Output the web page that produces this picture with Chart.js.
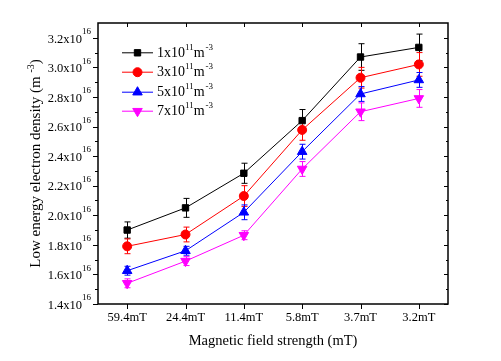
<!DOCTYPE html>
<html>
<head>
<meta charset="utf-8">
<script src="https://cdn.jsdelivr.net/npm/chart.js@4.4.0/dist/chart.umd.min.js"></script>
<style>
  html, body { margin: 0; padding: 0; background: #fff; }
  #wrap { width: 501px; height: 361px; position: relative; }
</style>
</head>
<body>
<div id="wrap"><canvas id="chart"></canvas></div>
<script>
// --- data (densities in units of 1e16 m^-3) ---
const categories = ['59.4mT', '24.4mT', '11.4mT', '5.8mT', '3.7mT', '3.2mT'];
const density1 = [1.90, 2.05, 2.284, 2.64, 3.07, 3.135];
const density3 = [1.79, 1.87, 2.13, 2.577, 2.93, 3.02];
const density5 = [1.625, 1.76, 2.02, 2.43, 2.82, 2.915];
const density7 = [1.54, 1.69, 1.865, 2.313, 2.70, 2.79];
const error1 = [0.055, 0.064, 0.068, 0.075, 0.09, 0.09];
const error3 = [0.05, 0.05, 0.07, 0.07, 0.07, 0.08];
const error5 = [0.03, 0.03, 0.05, 0.05, 0.05, 0.05];
const error7 = [0.03, 0.03, 0.03, 0.05, 0.06, 0.06];
const legendBase = ['1x10', '3x10', '5x10', '7x10'];
const legendExp = '11';
const yTicks = [1.4, 1.6, 1.8, 2.0, 2.2, 2.4, 2.6, 2.8, 3.0, 3.2];
const yTickExp = '16';

const serif = '"Liberation Serif", "Times New Roman", serif';

const series = [
  { label: legendBase[0], data: density1, err: error1, color: '#000000', style: 'rect', rot: 0 },
  { label: legendBase[1], data: density3, err: error3, color: '#ff0000', style: 'circle', rot: 0 },
  { label: legendBase[2], data: density5, err: error5, color: '#0000ff', style: 'triangle', rot: 0 },
  { label: legendBase[3], data: density7, err: error7, color: '#ff00ff', style: 'triangle', rot: 180 }
];

// legend marker in the series colour
function legendMarker(ctx, s, px, py) {
  ctx.save();
  ctx.fillStyle = s.color;
  ctx.strokeStyle = s.color;
  Chart.helpers.drawPoint(ctx, { pointStyle: s.style, radius: s.style === 'triangle' ? 5.5 : 4.5, rotation: s.rot, borderWidth: 1 }, px, py);
  ctx.restore();
}

// error bars, frame, ticks, y labels and legend drawn with the chart's own scales
const extras = {
  id: 'extras',
  beforeDatasetsDraw(chart) {
    const ctx = chart.ctx;
    const x = chart.scales.x, y = chart.scales.y;
    ctx.save();
    ctx.lineWidth = 1;
    series.forEach(s => {
      ctx.strokeStyle = s.color;
      s.data.forEach((v, i) => {
        const px = Math.round(x.getPixelForValue(i)) + 0.5;
        const top = y.getPixelForValue(v + s.err[i]);
        const bot = y.getPixelForValue(v - s.err[i]);
        ctx.beginPath();
        ctx.moveTo(px, top); ctx.lineTo(px, bot);
        ctx.moveTo(px - 3, top); ctx.lineTo(px + 3, top);
        ctx.moveTo(px - 3, bot); ctx.lineTo(px + 3, bot);
        ctx.stroke();
      });
    });
    ctx.restore();
  },
  afterDraw(chart) {
    const ctx = chart.ctx;
    const a = chart.chartArea;
    const x = chart.scales.x, y = chart.scales.y;
    ctx.save();
    ctx.strokeStyle = '#000';
    ctx.fillStyle = '#000';

    // frame
    ctx.lineWidth = 1.5;
    ctx.strokeRect(a.left, a.top, a.right - a.left, a.bottom - a.top);

    // x ticks: outward at bottom, inward at top
    ctx.lineWidth = 1;
    ctx.beginPath();
    categories.forEach((c, i) => {
      const px = Math.round(x.getPixelForValue(i)) + 0.5;
      ctx.moveTo(px, a.bottom); ctx.lineTo(px, a.bottom + 5);
      ctx.moveTo(px, a.top); ctx.lineTo(px, a.top + 4);
    });
    // y ticks: major + minor, outward left, inward right
    for (let k = 0; k <= 18; k++) {
      const v = 1.4 + k * 0.1;
      const py = Math.round(y.getPixelForValue(v)) + 0.5;
      const major = k % 2 === 0;
      ctx.moveTo(a.left, py); ctx.lineTo(a.left - (major ? 5 : 3), py);
      ctx.moveTo(a.right, py); ctx.lineTo(a.right - (major ? 4 : 2), py);
    }
    ctx.stroke();

    // y tick labels with superscript
    ctx.textBaseline = 'middle';
    yTicks.forEach(v => {
      const py = y.getPixelForValue(v);
      ctx.font = '9px ' + serif;
      ctx.textAlign = 'right';
      const expW = ctx.measureText(yTickExp).width;
      const right = a.left - 7;
      ctx.fillText(yTickExp, right, py - 6);
      ctx.font = '12.5px ' + serif;
      ctx.fillText(v.toFixed(1) + 'x10', right - expW, py + 1.5);
    });

    // y axis title
    ctx.save();
    ctx.translate(36, (a.top + a.bottom) / 2);
    ctx.rotate(-Math.PI / 2);
    const t1 = 'Low energy electron density (m ';
    const t2 = '-3';
    const t3 = ')';
    ctx.font = '15px ' + serif;
    const w1 = ctx.measureText(t1).width, w3 = ctx.measureText(t3).width;
    ctx.font = '10px ' + serif;
    const w2 = ctx.measureText(t2).width;
    let sx = -(w1 + w2 + w3) / 2;
    ctx.textAlign = 'left';
    ctx.font = '15px ' + serif;
    ctx.fillText(t1, sx, 0); sx += w1;
    ctx.font = '10px ' + serif;
    ctx.fillText(t2, sx, -5); sx += w2;
    ctx.font = '15px ' + serif;
    ctx.fillText(t3, sx, 0);
    ctx.restore();

    // legend
    const rows = [52.3, 71.7, 91.7, 110.7];
    series.forEach((s, i) => {
      const ry = rows[i];
      ctx.strokeStyle = s.color;
      ctx.lineWidth = 1;
      ctx.beginPath();
      ctx.moveTo(122, ry + 0.5); ctx.lineTo(153, ry + 0.5);
      ctx.stroke();
      legendMarker(ctx, s, 137.5, ry + 0.5);
      ctx.fillStyle = '#000';
      ctx.textAlign = 'left';
      let tx = 157;
      ctx.font = '14px ' + serif;
      ctx.fillText(s.label, tx, ry + 1); tx += ctx.measureText(s.label).width;
      ctx.font = '9px ' + serif;
      ctx.fillText(legendExp, tx, ry - 5); tx += ctx.measureText(legendExp).width;
      ctx.font = '14px ' + serif;
      ctx.fillText('m', tx, ry + 1); tx += ctx.measureText('m').width;
      ctx.font = '9px ' + serif;
      ctx.fillText('-3', tx + 1, ry - 5);
    });
    ctx.restore();
  }
};

const datasets = series.map(s => ({
  label: s.label,
  data: s.data,
  borderColor: s.color,
  backgroundColor: s.color,
  borderWidth: 1,
  pointStyle: s.style,
  pointRotation: s.rot,
  pointRadius: s.style === 'triangle' ? 5.5 : 4.5,
  pointBackgroundColor: s.color,
  pointBorderColor: s.color,
  tension: 0
}));

new Chart(document.getElementById('chart'), {
  type: 'line',
  data: { labels: categories, datasets: datasets },
  options: {
    responsive: true,
    maintainAspectRatio: false,
    animation: false,
    layout: { padding: { top: 23, right: 53, left: 0, bottom: 0 } },
    plugins: { legend: { display: false }, tooltip: { enabled: false } },
    scales: {
      x: {
        type: 'category',
        offset: true,
        grid: { display: false, drawTicks: false },
        border: { display: false },
        ticks: { color: '#000', font: { family: serif, size: 12.5 }, padding: 6, maxRotation: 0 },
        title: {
          display: true,
          text: 'Magnetic field strength (mT)',
          color: '#000',
          font: { family: serif, size: 14.5 },
          padding: { top: 4, bottom: 11 }
        },
        afterFit(scale) { scale.height = 57; }
      },
      y: {
        min: 1.4,
        max: 3.3,
        grid: { display: false, drawTicks: false },
        border: { display: false },
        ticks: { display: false, stepSize: 0.2 },
        afterFit(scale) { scale.width = 98; }
      }
    }
  },
  plugins: [extras]
});
</script>
</body>
</html>
